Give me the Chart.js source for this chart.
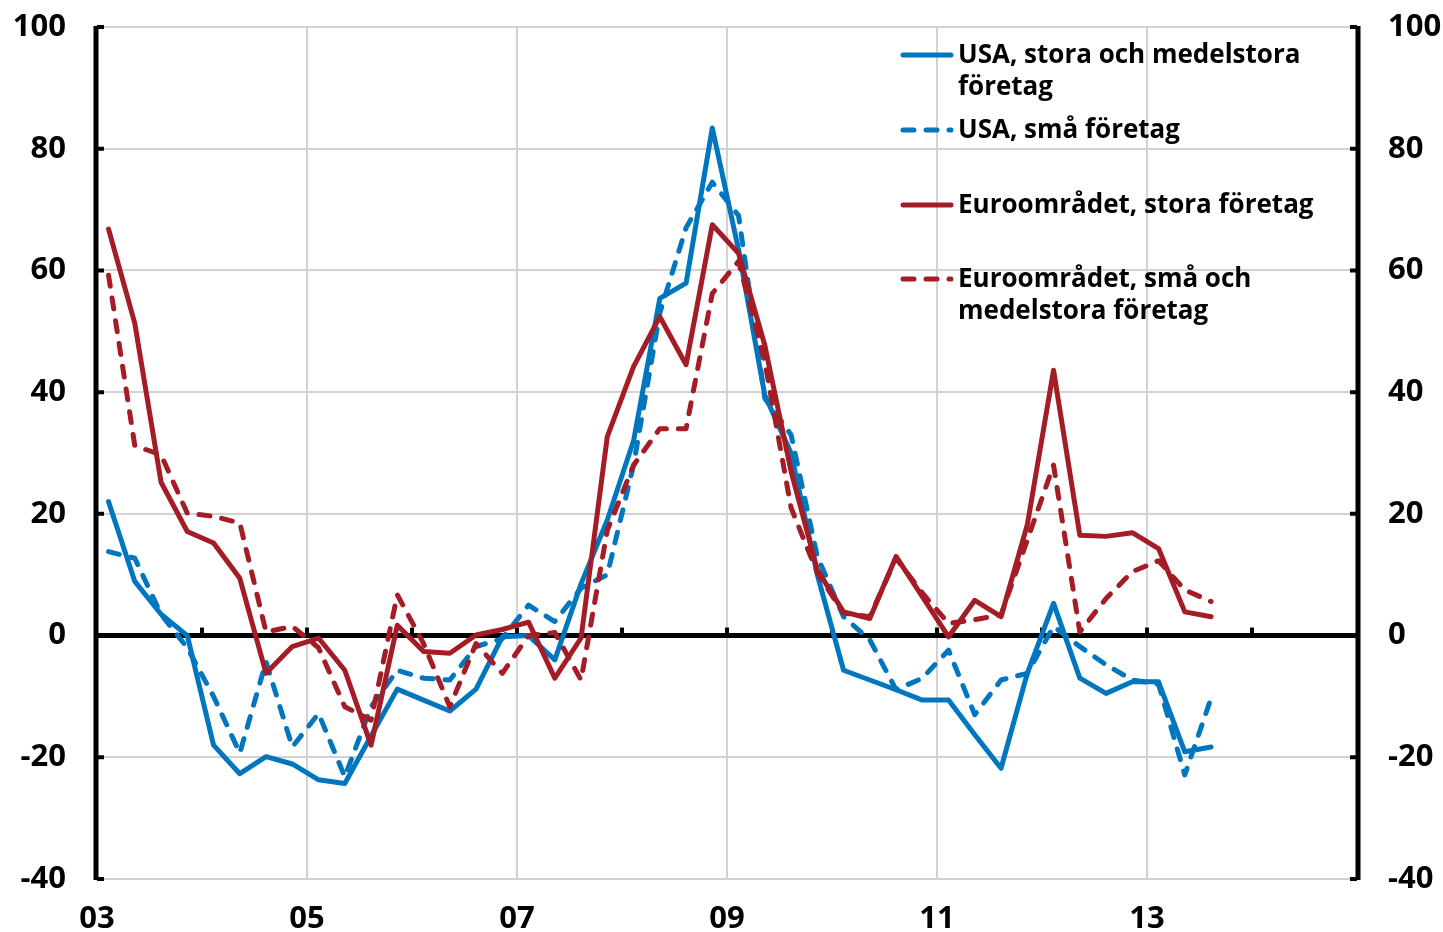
<!DOCTYPE html>
<html>
<head>
<meta charset="utf-8">
<script src="https://cdn.jsdelivr.net/npm/chart.js@4.4.1/dist/chart.umd.min.js"></script>
<style>
  html, body { margin: 0; padding: 0; background: #fff; }
  #wrap { width: 1443px; height: 932px; }
</style>
</head>
<body>
<div id="wrap"><canvas id="chart" width="1443" height="932"></canvas></div>
<script>
// Quarters 2003K1 - 2013K3
const quarters = [
  "03K1","03K2","03K3","03K4","04K1","04K2","04K3","04K4",
  "05K1","05K2","05K3","05K4","06K1","06K2","06K3","06K4",
  "07K1","07K2","07K3","07K4","08K1","08K2","08K3","08K4",
  "09K1","09K2","09K3","09K4","10K1","10K2","10K3","10K4",
  "11K1","11K2","11K3","11K4","12K1","12K2","12K3","12K4",
  "13K1","13K2","13K3"
];

const usaLarge = [
  22, 8.9, 3.5, 0, -18, -22.7, -19.9, -21.1, -23.7, -24.3, -16.5, -8.8,
  -10.6, -12.4, -8.8, -0.2, 0, -4, 8.5, 19, 32, 55.4, 57.9, 83.4,
  63.4, 39.5, 30, 10, -5.7, -7.3, -8.9, -10.6, -10.6, -16.3, -21.8, -6.2,
  5.3, -7, -9.5, -7.6, -7.6, -19.1, -18.3
];
const usaSmall = [
  13.8, 12.7, 3.5, -2, -10, -19.3, -4.3, -18.3, -12.8, -23.2, -11.7, -5.7,
  -7, -7.3, -1.8, -0.5, 5, 2.3, 7.8, 10, 28, 53, 67, 74.5,
  69, 39, 33, 13, 3.1, -0.7, -8.9, -7, -2.4, -13, -7.3, -6.2,
  1.5, -1.8, -4.8, -7.3, -8, -22.9, -10.3
];
const euroLarge = [
  66.8, 51.3, 25.2, 17.1, 15.2, 9.4, -6.2, -1.8, -0.4, -5.7, -18, 1.7,
  -2.6, -2.9, 0.1, 1, 2.2, -7, -0.4, 32.7, 44.2, 52.4, 44.5, 67.5,
  62.8, 47.7, 27, 10.8, 3.9, 2.8, 13, 6.4, -0.2, 5.8, 3.1, 18.2,
  43.6, 16.5, 16.3, 16.9, 14.3, 3.9, 3.1
];
const euroSmall = [
  59.2, 31.2, 29.7, 20.1, 19.6, 18.5, 0.6, 1.5, -2, -11.7, -13.9, 6.7,
  -1.3, -11.7, -1.3, -6.2, 0, 0.5, -7.3, 17.3, 28, 34, 34, 56.2,
  61.5, 45, 21, 10.3, 3.7, 3.1, 12.7, 7, 2, 2.6, 3.4, 15.7,
  28, 0.6, 6.1, 10.5, 12.3, 7.5, 5.6
];

const seriesNames = [
  "USA, stora och medelstora\nföretag",
  "USA, små företag",
  "Euroområdet, stora företag",
  "Euroområdet, små och\nmedelstora företag"
];
const xTickLabels = ["03", "05", "07", "09", "11", "13"];
const yTicks = [-40, -20, 0, 20, 40, 60, 80, 100];

const BLUE = "rgb(0, 118, 190)";
const RED = "rgb(163, 28, 38)";
const FONT = "'Open Sans', 'Noto Sans', sans-serif";
const DASH = [11, 12];

// quarter label -> position on the year axis
const quarterToX = (q) => {
  const year = 2000 + parseInt(q.slice(0, 2), 10);
  const k = parseInt(q.slice(3), 10);
  return year + (k - 1) * 0.25 + 0.11;
};
const toPoints = (values) => values.map((v, i) => ({ x: quarterToX(quarters[i]), y: v }));

// fix the plot box: the y axes must not add label padding above/below
const fitY = (width) => (scale) => {
  scale.width = width;
  scale.paddingTop = 0;
  scale.paddingBottom = 0;
};

// Axes, zero line and year tick marks
const axisPlugin = {
  id: "axisPlugin",
  beforeDatasetsDraw(chart) {
    const { ctx, chartArea, scales } = chart;
    const y0 = scales.y.getPixelForValue(0);
    ctx.save();
    ctx.strokeStyle = "#000";
    ctx.lineCap = "butt";

    // zero line
    ctx.lineWidth = 5;
    ctx.beginPath();
    ctx.moveTo(chartArea.left, y0);
    ctx.lineTo(chartArea.right, y0);
    ctx.stroke();

    // year ticks on zero line
    ctx.lineWidth = 4;
    for (let yr = 2004; yr <= 2014; yr++) {
      const px = scales.x.getPixelForValue(yr);
      ctx.beginPath();
      ctx.moveTo(px, y0);
      ctx.lineTo(px, y0 - 8);
      ctx.stroke();
    }

    // left and right axes
    ctx.lineWidth = 5;
    [chartArea.left - 1, chartArea.right + 1].forEach((ax) => {
      ctx.beginPath();
      ctx.moveTo(ax, chartArea.top - 1);
      ctx.lineTo(ax, chartArea.bottom + 1);
      ctx.stroke();
    });

    // inward tick marks
    ctx.lineWidth = 4;
    yTicks.forEach((v) => {
      const py = scales.y.getPixelForValue(v);
      ctx.beginPath();
      ctx.moveTo(chartArea.left, py);
      ctx.lineTo(chartArea.left + 7, py);
      ctx.moveTo(chartArea.right, py);
      ctx.lineTo(chartArea.right - 7, py);
      ctx.stroke();
    });
    ctx.restore();
  },
};

// Legend inside the plot
const legendPlugin = {
  id: "legendPlugin",
  afterDraw(chart) {
    const { ctx } = chart;
    const rowsY = [55, 130, 205, 279];
    ctx.save();
    ctx.font = "bold 26px " + FONT;
    ctx.fillStyle = "#000";
    ctx.textBaseline = "middle";
    ctx.textAlign = "left";
    chart.data.datasets.forEach((ds, i) => {
      const y = rowsY[i];
      ctx.strokeStyle = ds.borderColor;
      ctx.lineWidth = 5;
      ctx.lineCap = "round";
      ctx.setLineDash(ds.borderDash || []);
      ctx.beginPath();
      ctx.moveTo(903, y);
      ctx.lineTo(951, y);
      ctx.stroke();
      ctx.setLineDash([]);
      ds.label.split("\n").forEach((line, j) => {
        ctx.fillText(line, 958, y + 1 + j * 32);
      });
    });
    ctx.restore();
  },
};

const lineStyle = {
  borderWidth: 5,
  pointRadius: 0,
  tension: 0,
  fill: false,
  borderCapStyle: "round",
  borderJoinStyle: "round",
};

const tickFont = { family: FONT, size: 31, weight: "bold" };

new Chart(document.getElementById("chart"), {
  type: "line",
  data: {
    datasets: [
      { ...lineStyle, label: seriesNames[0], data: toPoints(usaLarge), borderColor: BLUE, order: 4 },
      { ...lineStyle, label: seriesNames[1], data: toPoints(usaSmall), borderColor: BLUE, borderDash: DASH, order: 3 },
      { ...lineStyle, label: seriesNames[2], data: toPoints(euroLarge), borderColor: RED, order: 2 },
      { ...lineStyle, label: seriesNames[3], data: toPoints(euroSmall), borderColor: RED, borderDash: DASH, order: 1 },
    ],
  },
  options: {
    responsive: false,
    animation: false,
    layout: { padding: { top: 27, left: 0, right: 0, bottom: 0 } },
    plugins: {
      legend: { display: false },
      tooltip: { enabled: false },
    },
    scales: {
      x: {
        type: "linear",
        min: 2003,
        max: 2015,
        afterFit: (scale) => {
          scale.height = 53;
          scale.paddingLeft = 0;
          scale.paddingRight = 0;
        },
        afterBuildTicks: (scale) => {
          const t = [];
          for (let yr = 2003; yr <= 2015; yr++) t.push({ value: yr });
          scale.ticks = t;
        },
        border: { display: false },
        grid: {
          drawTicks: false,
          lineWidth: 2,
          color: (c) => {
            const v = c.tick && c.tick.value;
            return v % 2 === 1 && v > 2003 && v < 2015 ? "#d2d2d2" : "rgba(0,0,0,0)";
          },
        },
        ticks: {
          autoSkip: false,
          maxRotation: 0,
          padding: 22,
          color: "#000",
          font: tickFont,
          callback: (v) => {
            const lbl = String(v).slice(2);
            return xTickLabels.includes(lbl) ? lbl : "";
          },
        },
      },
      y: {
        position: "left",
        min: -40,
        max: 100,
        afterFit: fitY(97),
        border: { display: false },
        grid: { drawTicks: false, color: "#d2d2d2", lineWidth: 2 },
        ticks: {
          stepSize: 20,
          padding: 31,
          color: "#000",
          font: tickFont,
        },
      },
      y2: {
        position: "right",
        min: -40,
        max: 100,
        afterFit: fitY(86),
        border: { display: false },
        grid: { display: false, drawTicks: false },
        ticks: {
          stepSize: 20,
          padding: 31,
          color: "#000",
          font: tickFont,
        },
      },
    },
  },
  plugins: [axisPlugin, legendPlugin],
});
</script>
</body>
</html>
